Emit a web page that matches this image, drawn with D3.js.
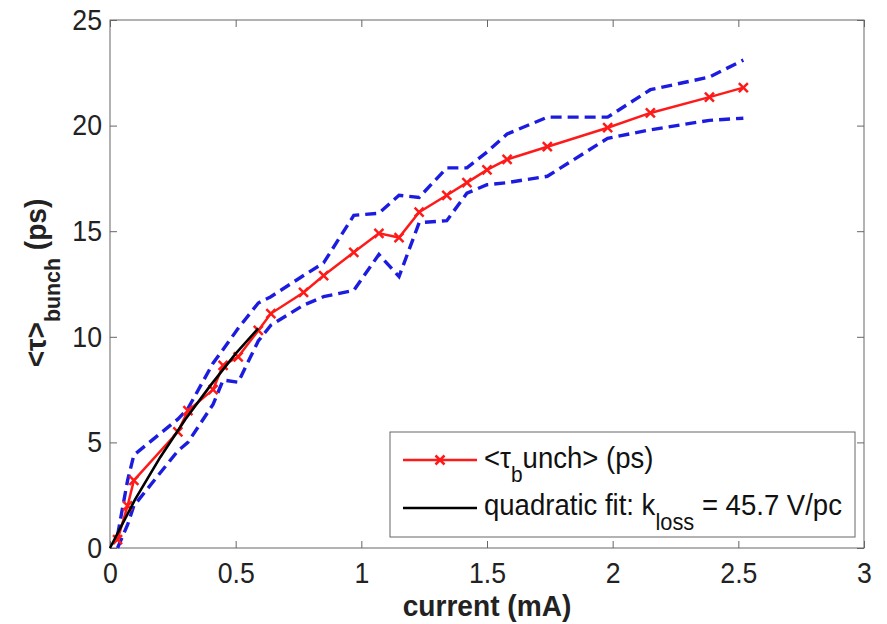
<!DOCTYPE html>
<html><head><meta charset="utf-8">
<script src="https://cdn.jsdelivr.net/npm/d3@7"></script>
<style>body{margin:0;background:#fff;} text{font-family:"Liberation Sans",Arial,sans-serif;}</style>
</head><body><svg id="c" width="887" height="624"></svg>
<script>
const current = [0.03,0.07,0.095,0.27,0.31,0.41,0.45,0.51,0.59,0.64,0.77,0.85,0.97,1.07,1.15,1.23,1.34,1.42,1.50,1.58,1.74,1.98,2.15,2.385,2.52];
const tauMean = [0.4,2.0,3.2,5.5,6.5,7.5,8.65,9.05,10.3,11.1,12.1,12.9,14.0,14.9,14.7,15.9,16.7,17.3,17.9,18.4,19.0,19.9,20.6,21.35,21.8];
const tauUpper = [0.6,3.2,4.4,6.1,6.6,8.75,9.4,10.4,11.6,11.9,12.9,13.5,15.75,15.85,16.7,16.6,18.0,18.0,18.75,19.6,20.4,20.4,21.7,22.3,23.1];
const tauLower = [0.0,1.1,2.0,4.6,5.0,6.8,7.95,7.85,9.8,10.55,11.5,11.9,12.2,13.9,12.85,15.4,15.5,16.8,17.2,17.3,17.6,19.4,19.8,20.25,20.35];
const fitX = [0,0.1,0.2,0.3,0.4,0.5,0.59];
const fitY = [0,2.3,4.3,6.1,7.7,9.2,10.4];
const xTicks = [0,0.5,1,1.5,2,2.5,3];
const yTicks = [0,5,10,15,20,25];

const svg = d3.select("#c");
const L=110,R=864,T=20,B=548;
const FS=29, SX=0.92, SUB=22;
const x = d3.scaleLinear().domain([0,3]).range([L,R]);
const y = d3.scaleLinear().domain([0,25]).range([B,T]);

svg.append("rect").attr("x",L).attr("y",T).attr("width",R-L).attr("height",B-T)
  .attr("fill","none").attr("stroke","#666").attr("stroke-width",1);
const fmt = d=>String(d);
svg.append("g").attr("transform",`translate(0,${B})`)
  .call(d3.axisBottom(x).tickValues(xTicks).tickFormat(fmt).tickSizeInner(-7).tickSizeOuter(0).tickPadding(14))
  .call(g=>{g.select(".domain").remove();g.selectAll("line").attr("stroke","#666");
    g.selectAll("text").attr("font-size",FS).attr("fill","#222").attr("transform",`scale(${SX},1)`);});
svg.append("g").attr("transform",`translate(0,${T})`)
  .call(d3.axisTop(x).tickValues(xTicks).tickFormat("").tickSizeInner(-7).tickSizeOuter(0))
  .call(g=>{g.select(".domain").remove();g.selectAll("line").attr("stroke","#666");});
svg.append("g").attr("transform",`translate(${L},0)`)
  .call(d3.axisLeft(y).tickValues(yTicks).tickFormat(fmt).tickSizeInner(-7).tickSizeOuter(0).tickPadding(8))
  .call(g=>{g.select(".domain").remove();g.selectAll("line").attr("stroke","#666");
    g.selectAll("text").attr("font-size",FS).attr("fill","#222").attr("x",0).attr("transform",`translate(-8,0) scale(${SX},1)`);});
svg.append("g").attr("transform",`translate(${R},0)`)
  .call(d3.axisRight(y).tickValues(yTicks).tickFormat("").tickSizeInner(-7).tickSizeOuter(0))
  .call(g=>{g.select(".domain").remove();g.selectAll("line").attr("stroke","#666");});

const line = d3.line().x(d=>x(d[0])).y(d=>y(d[1]));
const up = current.map((c,i)=>[c,tauUpper[i]]);
const lo = current.map((c,i)=>[c,tauLower[i]]);
const mn = current.map((c,i)=>[c,tauMean[i]]);
const plot = svg.append("g");
[up,lo].forEach(s=>plot.append("path").attr("d",line(s)).attr("fill","none").attr("stroke","#1c1ce0").attr("stroke-width",3.4).attr("stroke-dasharray","11,6"));
plot.append("path").attr("d",line(mn)).attr("fill","none").attr("stroke","#ff1a1a").attr("stroke-width",2.5);
const m=4.5;
const xm = (cx,cy)=>`M${cx-m},${cy-m}L${cx+m},${cy+m}M${cx-m},${cy+m}L${cx+m},${cy-m}`;
plot.selectAll(".mk").data(mn).enter().append("path")
  .attr("d",d=>xm(x(d[0]),y(d[1]))).attr("stroke","#ff1a1a").attr("stroke-width",2.5);
plot.append("path").attr("d",line(fitX.map((v,i)=>[v,fitY[i]]))).attr("fill","none").attr("stroke","#000").attr("stroke-width",2.6);

// legend
const lg = svg.append("g");
lg.append("rect").attr("x",390).attr("y",432).attr("width",465).attr("height",105).attr("fill","#fff").attr("stroke","#666");
lg.append("line").attr("x1",403).attr("x2",477).attr("y1",460).attr("y2",460).attr("stroke","#ff1a1a").attr("stroke-width",2.5);
lg.append("path").attr("d",xm(440,460)).attr("stroke","#ff1a1a").attr("stroke-width",2.5);
const LSX=0.95;
const t1 = lg.append("text").attr("transform",`translate(484,468) scale(${LSX},1)`).attr("font-size",FS).attr("fill","#111");
t1.append("tspan").text("<τ");
t1.append("tspan").attr("dy",14).attr("font-size",SUB).text("b");
t1.append("tspan").attr("dy",-14).text("unch> (ps)");
lg.append("line").attr("x1",403).attr("x2",477).attr("y1",508).attr("y2",508).attr("stroke","#000").attr("stroke-width",2.6);
const t2 = lg.append("text").attr("transform",`translate(484,515) scale(${LSX},1)`).attr("font-size",FS).attr("fill","#111");
t2.append("tspan").text("quadratic fit: k");
t2.append("tspan").attr("dy",15).attr("font-size",SUB+1).text("loss");
t2.append("tspan").attr("dy",-15).text(" = 45.7 V/pc");

// axis labels
svg.append("text").attr("transform",`translate(${(L+R)/2},616) scale(0.97,1)`).attr("text-anchor","middle").attr("font-size",FS).attr("font-weight","bold").attr("fill","#222").text("current (mA)");
const yl = svg.append("text").attr("transform",`translate(46,283) rotate(-90) scale(0.97,1)`).attr("text-anchor","middle").attr("font-size",FS).attr("font-weight","bold").attr("fill","#222");
yl.append("tspan").text("<τ>");
yl.append("tspan").attr("dy",14).attr("font-size",SUB).text("bunch");
yl.append("tspan").attr("dy",-14).text(" (ps)");
</script></body></html>
